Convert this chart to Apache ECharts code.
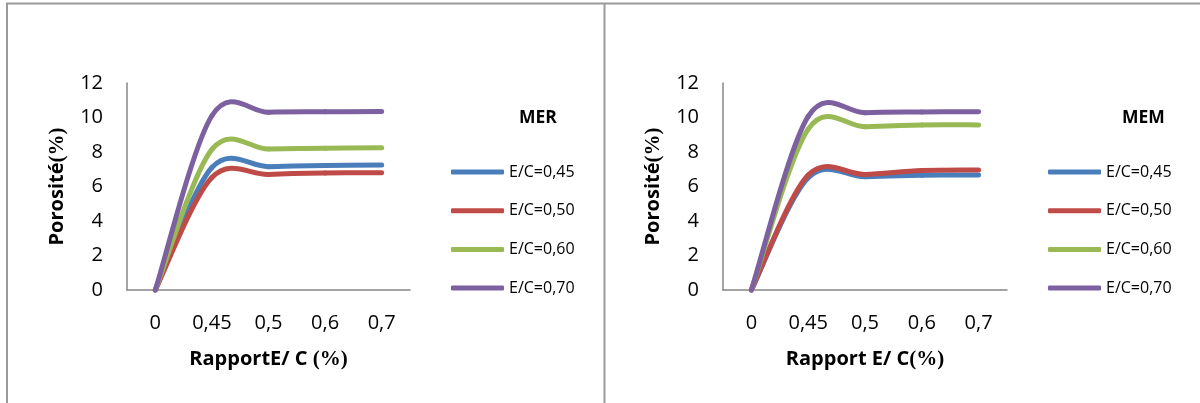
<!DOCTYPE html>
<html>
<head>
<meta charset="utf-8">
<script src="https://cdn.jsdelivr.net/npm/echarts@6/dist/echarts.min.js"></script>
<style>
  html, body { margin: 0; padding: 0; background: #fff; }
  #chart { width: 1200px; height: 403px; }
</style>
</head>
<body>
<div id="chart"></div>
<script>
// Porosité en fonction du rapport E/C — deux mortiers (MER, MEM)
const categories = ['0', '0,45', '0,5', '0,6', '0,7'];
const yTicks = { min: 0, max: 12, interval: 2 };
const seriesNames = ['E/C=0,45', 'E/C=0,50', 'E/C=0,60', 'E/C=0,70'];

// MER
const merEC045 = [0, 7.1, 7.15, 7.22, 7.25];
const merEC050 = [0, 6.52, 6.7, 6.78, 6.8];
const merEC060 = [0, 8.15, 8.17, 8.22, 8.25];
const merEC070 = [0, 10.1, 10.3, 10.33, 10.35];

// MEM
const memEC045 = [0, 6.51, 6.57, 6.65, 6.67];
const memEC050 = [0, 6.66, 6.7, 6.93, 6.96];
const memEC060 = [0, 9.33, 9.47, 9.57, 9.57];
const memEC070 = [0, 10.06, 10.28, 10.32, 10.34];

const colors = ['#4A7EBB', '#BE4B48', '#98B954', '#7D60A0'];
const axisGray = '#868686';
const font = '"Open Sans", Lato, sans-serif';
const richParen = { p: { fontSize: 21, fontWeight: 'bold', fontFamily: '"Liberation Serif", serif', color: '#000' } };

function makeX(gridIndex, name) {
  return {
    type: 'category', gridIndex, data: categories, boundaryGap: true,
    axisLine: { lineStyle: { color: axisGray, width: 1.5 } },
    axisTick: { show: false },
    axisLabel: { color: '#000', fontSize: 20, fontFamily: font, margin: 23 },
    name, nameLocation: 'middle', nameGap: 59,
    nameTextStyle: { color: '#000', fontSize: 20, fontWeight: 'bold', fontFamily: font, rich: richParen }
  };
}
function makeY(gridIndex) {
  return {
    type: 'value', gridIndex, min: yTicks.min, max: yTicks.max, interval: yTicks.interval,
    axisLine: { show: true, lineStyle: { color: axisGray, width: 1.5 } },
    axisTick: { show: false },
    splitLine: { show: false },
    axisLabel: { color: '#000', fontSize: 20, fontFamily: font, margin: 24 },
    name: 'Porosité{p|(%)}', nameLocation: 'middle', nameGap: 59, nameRotate: 90,
    nameTextStyle: { color: '#000', fontSize: 20, fontWeight: 'bold', fontFamily: font, rich: richParen }
  };
}

// Smoothed curve: cubic Bézier segments through the data points
// (tangent at each point parallel to the chord joining its neighbours).
function makeSeries(values, i, axisIdx) {
  const n = values.length;
  return {
    name: seriesNames[i], type: 'custom', coordinateSystem: 'cartesian2d',
    xAxisIndex: axisIdx, yAxisIndex: axisIdx,
    data: values.map((v, k) => [k, v]),
    encode: { x: 0, y: 1 },
    itemStyle: { color: colors[i] },
    z: 2 + i,
    renderItem(params, api) {
      const k = params.dataIndex;
      if (k >= n - 1) return;
      const P = j => {
        const c = Math.max(0, Math.min(n - 1, j));
        return api.coord([c, values[c]]);
      };
      const p0 = P(k - 1), p1 = P(k), p2 = P(k + 1), p3 = P(k + 2);
      return {
        type: 'bezierCurve',
        shape: {
          x1: p1[0], y1: p1[1],
          cpx1: p1[0] + (p2[0] - p0[0]) / 6, cpy1: p1[1] + (p2[1] - p0[1]) / 6,
          cpx2: p2[0] - (p3[0] - p1[0]) / 6, cpy2: p2[1] - (p3[1] - p1[1]) / 6,
          x2: p2[0], y2: p2[1]
        },
        style: { stroke: colors[i], lineWidth: 5, fill: null, lineCap: 'round' }
      };
    }
  };
}
function makeLegend(left) {
  return {
    orient: 'vertical', left, top: 164, itemGap: 22.7, padding: 0,
    icon: 'roundRect', itemWidth: 53, itemHeight: 5,
    textStyle: { color: '#000', fontSize: 16, lineHeight: 16, fontFamily: font },
    data: seriesNames
  };
}
function makeTitle(text, left) {
  return {
    text, left, top: 109, padding: 0,
    textStyle: { fontSize: 17.5, fontWeight: 'bold', color: '#000', fontFamily: font }
  };
}

const chart = echarts.init(document.getElementById('chart'), null, { renderer: 'canvas' });
chart.setOption({
  backgroundColor: '#fff',
  animation: false,
  color: colors,
  title: [makeTitle('MER', 519), makeTitle('MEM', 1122)],
  grid: [
    { left: 127, top: 83, width: 283, height: 207 },
    { left: 723, top: 83, width: 284, height: 207 }
  ],
  xAxis: [makeX(0, 'RapportE/ C {p|(%)}'), makeX(1, 'Rapport E/ C{p|(%)}')],
  yAxis: [makeY(0), makeY(1)],
  legend: [makeLegend(451), makeLegend(1048)],
  series: [
    makeSeries(merEC045, 0, 0), makeSeries(merEC050, 1, 0),
    makeSeries(merEC060, 2, 0), makeSeries(merEC070, 3, 0),
    makeSeries(memEC045, 0, 1), makeSeries(memEC050, 1, 1),
    makeSeries(memEC060, 2, 1), makeSeries(memEC070, 3, 1)
  ],
  graphic: [
    // panel frames
    { type: 'polyline', shape: { points: [[7, 410], [7, 3.5], [1205, 3.5]] },
      style: { stroke: '#9a9a9a', lineWidth: 2, fill: null }, silent: true },
    { type: 'line', shape: { x1: 604.5, y1: 3, x2: 604.5, y2: 410 },
      style: { stroke: '#9a9a9a', lineWidth: 2 }, silent: true }
  ]
});
</script>
</body>
</html>
